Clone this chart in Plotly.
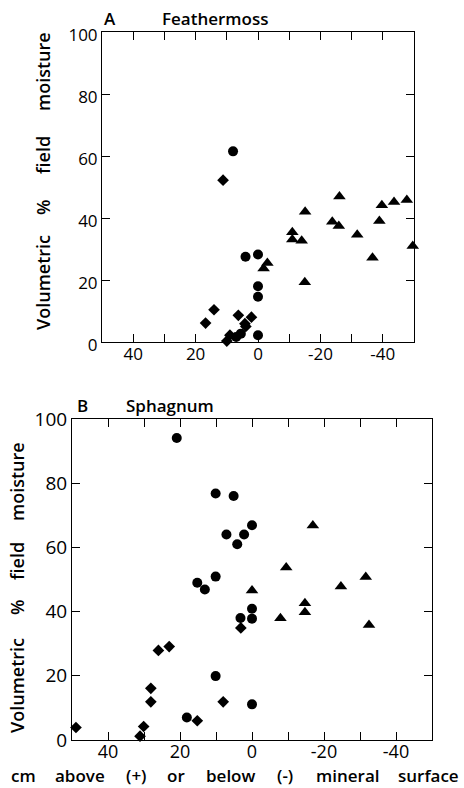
import plotly.graph_objects as go

W, H = 464, 788

# Panel A - Feathermoss
a_circ_x = [8, 4, 0, 0, 0, 0, 7, 5.5]
a_circ_y = [61.5, 27.5, 28.2, 18, 14.6, 2.2, 1.6, 2.7]
a_diam_x = [11.2, 14.1, 16.8, 6.3, 2.1, 4.2, 3.9, 9, 10]
a_diam_y = [52.2, 10.4, 6.1, 8.6, 8.0, 5.9, 5.0, 2.2, 0.3]
a_tri_x = [-3, -1.8, -11, -11, -14, -15.1, -15, -23.8, -25.9, -26.1, -31.8, -36.7, -38.9, -39.7, -43.6, -47.7, -49.6]
a_tri_y = [25.5, 23.7, 35.4, 33.1, 32.7, 42, 19.3, 38.8, 37.4, 46.9, 34.6, 27.2, 39, 44.1, 45.2, 45.8, 31]

# Panel B - Sphagnum
b_circ_x = [20.9, 10.1, 5.1, 0, 7.1, 2.2, 4.1, 10.1, 15.2, 13.1, 0, 0, 3.2, 10.1, 0, 18.1]
b_circ_y = [94.1, 76.8, 76, 66.9, 64, 64, 61, 50.9, 49, 46.9, 40.9, 37.8, 38, 19.9, 11.1, 7]
b_diam_x = [48.9, 31.1, 30.1, 28.1, 28.1, 26, 23, 15.2, 8, 3.1]
b_diam_y = [3.9, 1.2, 4.2, 16.1, 11.9, 27.9, 29.1, 6, 11.9, 34.9]
b_tri_x = [0, -7.9, -9.5, -14.7, -14.7, -16.9, -24.7, -31.6, -32.5]
b_tri_y = [46.6, 37.9, 53.7, 42.6, 39.8, 66.8, 47.8, 50.8, 35.8]

x_tickvals = [40, 30, 20, 10, 0, -10, -20, -30, -40]
x_ticktext = ["40", "", "20", "", "0", "", "-20", "", "-40"]
y_tickvals = [0, 20, 40, 60, 80, 100]

FONT = "Open Sans"
TW = 600   # title weight

fig = go.Figure()

def add_panel(cx, cy, dx, dy, tx, ty, xa, ya):
    common = dict(mode="markers", cliponaxis=False, showlegend=False,
                  xaxis=xa, yaxis=ya, hoverinfo="skip")
    fig.add_trace(go.Scatter(x=dx, y=dy, marker=dict(symbol="diamond", size=9, color="black"), **common))
    fig.add_trace(go.Scatter(x=cx, y=cy, marker=dict(symbol="circle", size=10, color="black"), **common))
    fig.add_trace(go.Scatter(x=tx, y=ty, marker=dict(symbol="triangle-up", size=11, color="black"), **common))

add_panel(a_circ_x, a_circ_y, a_diam_x, a_diam_y, a_tri_x, a_tri_y, "x", "y")
add_panel(b_circ_x, b_circ_y, b_diam_x, b_diam_y, b_tri_x, b_tri_y, "x2", "y2")

def px(v):
    return v / W

def py(v):
    return 1 - v / H

axis_common = dict(showline=True, linecolor="black", linewidth=1, mirror="ticks",
                   ticks="inside", ticklen=8, tickcolor="black", tickwidth=1,
                   showgrid=False, zeroline=False, automargin=False)

fig.update_layout(
    template="none",
    width=W, height=H, margin=dict(l=0, r=0, t=0, b=0, pad=0),
    paper_bgcolor="white", plot_bgcolor="white",
    font=dict(family=FONT, color="black"),
    xaxis=dict(domain=[px(102), px(414)], range=[50, -50], anchor="y",
               tickvals=x_tickvals, ticktext=x_ticktext, ticklabelstandoff=-3,
               tickfont=dict(size=17, family=FONT), **axis_common),
    yaxis=dict(domain=[py(342), py(32)], range=[0, 100], anchor="x",
               tickvals=y_tickvals, ticklabelshift=3,
               tickfont=dict(size=17, family=FONT), **axis_common),
    xaxis2=dict(domain=[px(72), px(432)], range=[50, -50], anchor="y2",
                tickvals=x_tickvals, ticktext=x_ticktext, ticklabelstandoff=-5,
                tickfont=dict(size=18, family=FONT), **axis_common),
    yaxis2=dict(domain=[py(740), py(419)], range=[0, 100], anchor="x2",
                tickvals=y_tickvals, tickfont=dict(size=19, family=FONT), **axis_common),
)

def ann(text, x, y, size=18, angle=0):
    fig.add_annotation(text=text, x=px(x), y=py(y), xref="paper", yref="paper",
                       showarrow=False, textangle=angle, xanchor="center", yanchor="middle",
                       font=dict(size=size, family=FONT, color="black", weight=TW))

# Panel titles
ann("A", 110, 18, 17)
ann("Feathermoss", 215, 18, 17)
ann("B", 82, 405, 17)
ann("Sphagnum", 170, 405, 17)

# Y axis titles (spread words)
for word, yc in [("Volumetric", 283), ("%", 207), ("field", 155), ("moisture", 72)]:
    ann(word, 43, yc, 18, -90)
for word, yc in [("Volumetric", 686), ("%", 607), ("field", 561), ("moisture", 482)]:
    ann(word, 17, yc, 18, -90)

# X axis title (spread words)
for word, xc in [("cm", 23), ("above", 80), ("(+)", 136), ("or", 176), ("below", 230),
                 ("(-)", 285), ("mineral", 348), ("surface", 428)]:
    ann(word, xc, 775, 17)

fig.write_html("out.html", config={"displayModeBar": False},
               post_script="document.body.style.margin='0';document.body.style.overflow='hidden';")
